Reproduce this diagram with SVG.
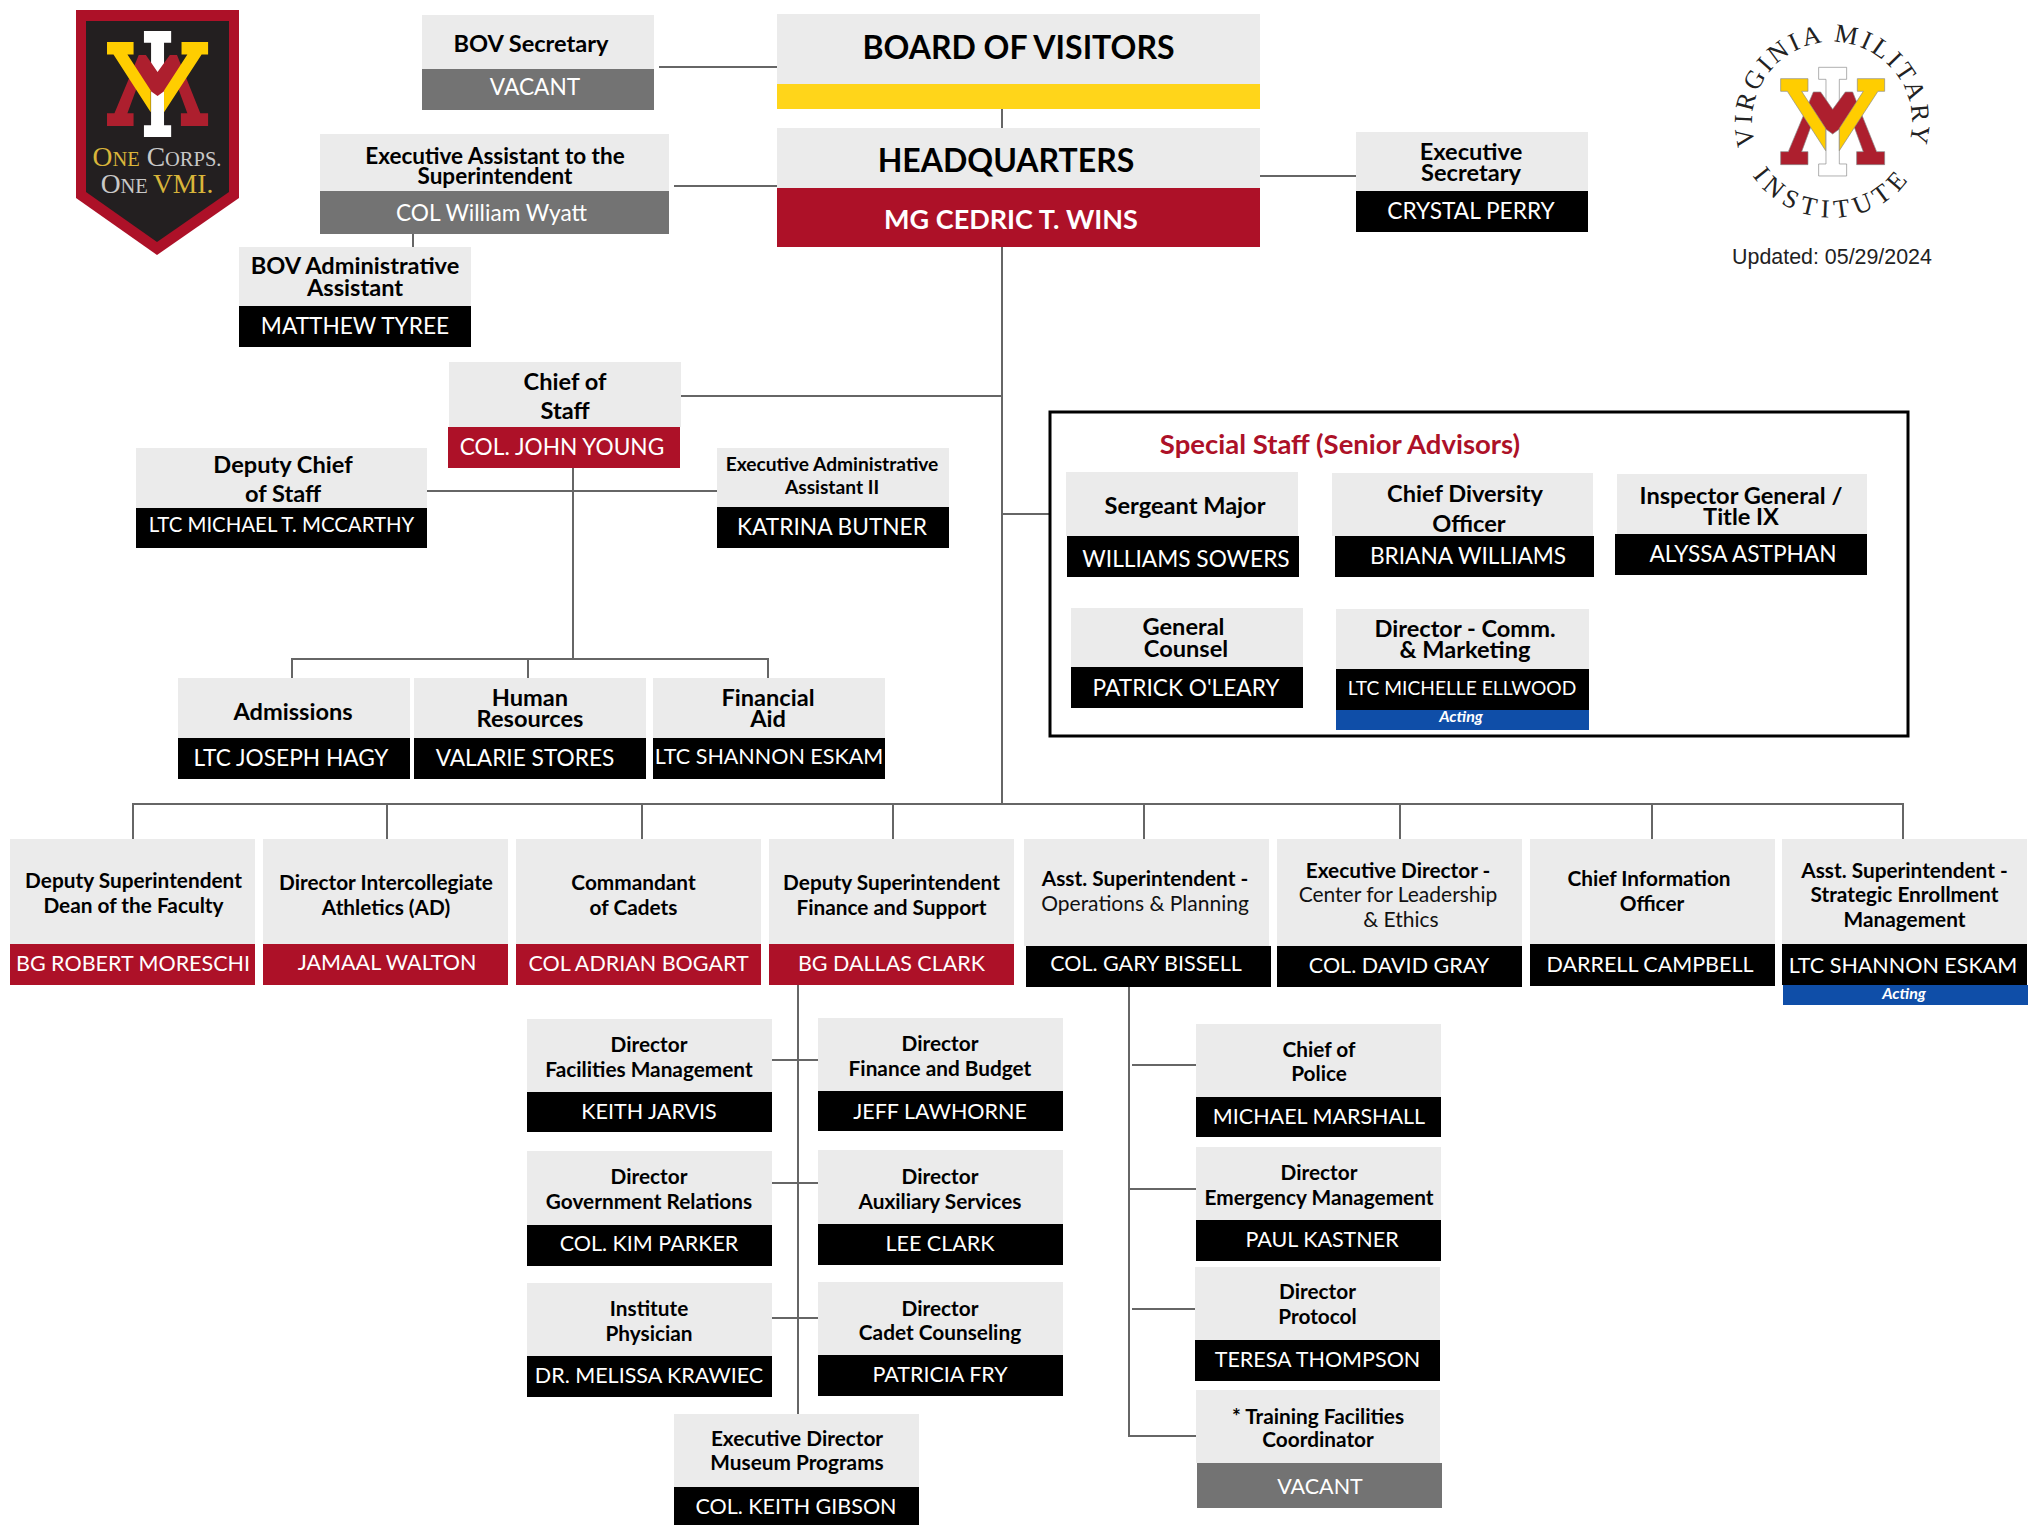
<svg xmlns="http://www.w3.org/2000/svg" width="2037" height="1525" viewBox="0 0 2037 1525">
<style>
text{font-family:"Lato","Carlito","Liberation Sans",sans-serif;text-anchor:middle}
.g{fill:#ebebeb}.k{fill:#000}.r{fill:#ad1128}.d{fill:#737373}.b{fill:#0f4ea8}.y{fill:#ffd51a}
.t{font-size:23.6px;font-weight:700;fill:#000}
.s{font-size:20.8px;font-weight:700;fill:#000}
.l{font-size:21px;font-weight:400;fill:#111}
.n{font-size:22.7px;fill:#fff;font-weight:400}
.m{font-size:21.5px;fill:#fff;font-weight:400}
.a{font-size:16px;font-style:italic;font-weight:700;fill:#fff}
#connectors path{fill:none;stroke:#666;stroke-width:2}
.seal{font-family:"Liberation Serif",serif;font-size:26px;fill:#222;text-anchor:middle}
.sh{font-family:"Liberation Serif",serif;font-size:27.5px}
.sh tspan.c{font-size:20.5px}
</style>
<defs>
<g id="vmi">
<path fill="#fff" d="M506 202H590V238H568V492H590V528H506V492H528V238H506Z"/>
<path fill="#ad1f2e" d="M392 455H415L490 276H512L548 328L586 276H608L680 455H704V494H620V455H640L605 360L548 402L490 360L455 455H474V494H392Z"/>
<path fill="#ffcd00" d="M392 236H474V274H455L527 385V452L412 274H392ZM704 236H622V274H640L568 385V452L684 274H704Z"/>
</g>
<path id="arcTop" d="M1780.6 183.3A80 80 0 1 1 1883.4 183.3"/>
<path id="arcBot" d="M1737.5 138.7A96 96 0 0 0 1926.5 138.7"/>
</defs>

<g id="connectors">
<path d="M1002 109V128M1002 247V804M659 67H777M674 186H777M413 234V247M1260 176H1356M681 396H1002M1002 514H1050"/>
<path d="M427 491H717M573 468V659M292 678V659H768V678M528 659V678"/>
<path d="M133 839V804H1903V839M387 804V839M642 804V839M893 804V839M1144 804V839M1400 804V839M1652 804V839"/>
<path d="M798 985V1414M772 1060H818M772 1183H818M772 1318H818"/>
<path d="M1129 987V1436H1196M1132 1065H1196M1129 1189H1196M1132 1309H1195"/>
</g>

<g id="shield-logo">
<path class="r" d="M76 10H239V198L157 255L76 198Z"/>
<path fill="#231f20" d="M86 21H229V192L157 242L86 192Z"/>
<use href="#vmi" transform="translate(-20 -34.6) scale(.324 .325)"/>
<text class="sh" x="157" y="166" style="font-family:'Liberation Serif',serif"><tspan fill="#d9b53a">O</tspan><tspan class="c" fill="#d9b53a">NE</tspan><tspan fill="#c8c8c8"> C</tspan><tspan class="c" fill="#c8c8c8">ORPS.</tspan></text>
<text class="sh" x="157" y="193" style="font-family:'Liberation Serif',serif"><tspan fill="#c8c8c8">O</tspan><tspan class="c" fill="#c8c8c8">NE </tspan><tspan fill="#d9b53a">VMI.</tspan></text>
</g>

<g id="seal-logo">
<use href="#vmi" transform="translate(1650 0) scale(.3333)" stroke="#888" stroke-width="2"/>
<text class="seal" letter-spacing="3"><textPath href="#arcTop" startOffset="50%">VIRGINIA MILITARY</textPath></text>
<text class="seal" letter-spacing="6"><textPath href="#arcBot" startOffset="50%">INSTITUTE</textPath></text>
<text x="1832" y="264" style="font-family:'Liberation Sans',sans-serif;font-size:21.4px;fill:#222">Updated: 05/29/2024</text>
</g>

<g id="bov-secretary"><rect class="g" x="422" y="15" width="232" height="54"/><rect class="d" x="422" y="69" width="232" height="41"/><text class="t" x="531" y="52">BOV Secretary</text><text class="n" x="535" y="95">VACANT</text></g>
<g id="exec-assistant"><rect class="g" x="320" y="134" width="349" height="57"/><rect class="d" x="320" y="191" width="349" height="43"/><text class="t" x="495" y="164" style="font-size:22.5px">Executive Assistant to the</text><text class="t" x="495" y="184" style="font-size:22.5px">Superintendent</text><text class="n" x="491.5" y="221">COL William Wyatt</text></g>
<g id="bov-admin"><rect class="g" x="239" y="247" width="232" height="59"/><rect class="k" x="239" y="306" width="232" height="41"/><text class="t" x="355" y="274">BOV Administrative</text><text class="t" x="355" y="296">Assistant</text><text class="n" x="355" y="334">MATTHEW TYREE</text></g>
<g id="board"><rect class="g" x="777" y="14" width="483" height="70"/><rect class="y" x="777" y="84" width="483" height="25"/><text x="1018.5" y="59" style="font-size:32px;font-weight:700;fill:#000">BOARD OF VISITORS</text></g>
<g id="hq"><rect class="g" x="777" y="128" width="483" height="60"/><rect class="r" x="777" y="188" width="483" height="59"/><text x="1006" y="172" style="font-size:32px;font-weight:700;fill:#000">HEADQUARTERS</text><text x="1011" y="229" style="font-size:27px;font-weight:700;fill:#fff">MG CEDRIC T. WINS</text></g>
<g id="exec-secretary"><rect class="g" x="1356" y="132" width="232" height="59"/><rect class="k" x="1356" y="191" width="232" height="41"/><text class="t" x="1471" y="160">Executive</text><text class="t" x="1471" y="181">Secretary</text><text class="n" x="1471" y="219">CRYSTAL PERRY</text></g>

<g id="chief-of-staff"><rect class="g" x="449" y="362" width="232" height="65"/><rect class="r" x="448" y="427" width="232" height="41"/><text class="t" x="565" y="390">Chief of</text><text class="t" x="565" y="419">Staff</text><text class="n" x="562" y="455">COL. JOHN YOUNG</text></g>
<g id="deputy-chief"><rect class="g" x="136" y="448" width="291" height="60"/><rect class="k" x="136" y="508" width="291" height="40"/><text class="t" x="283" y="473">Deputy Chief</text><text class="t" x="283" y="502">of Staff</text><text class="m" x="281.5" y="532" style="font-size:20.4px">LTC MICHAEL T. MCCARTHY</text></g>
<g id="exec-admin"><rect class="g" x="717" y="448" width="232" height="59"/><rect class="k" x="717" y="507" width="232" height="41"/><text x="832" y="471" style="font-size:19.2px;font-weight:700;fill:#000">Executive Administrative</text><text x="832" y="494" style="font-size:19.2px;font-weight:700;fill:#000">Assistant II</text><text class="n" x="832" y="535">KATRINA BUTNER</text></g>
<g id="admissions"><rect class="g" x="178" y="678" width="232" height="60"/><rect class="k" x="178" y="738" width="232" height="41"/><text class="t" x="293" y="720">Admissions</text><text class="n" x="291" y="766">LTC JOSEPH HAGY</text></g>
<g id="hr"><rect class="g" x="414" y="678" width="232" height="60"/><rect class="k" x="414" y="738" width="232" height="41"/><text class="t" x="530" y="706">Human</text><text class="t" x="530" y="727">Resources</text><text class="n" x="525" y="766">VALARIE STORES</text></g>
<g id="fin-aid"><rect class="g" x="653" y="678" width="232" height="60"/><rect class="k" x="653" y="738" width="232" height="41"/><text class="t" x="768" y="706">Financial</text><text class="t" x="768" y="727">Aid</text><text class="m" x="769" y="764">LTC SHANNON ESKAM</text></g>

<g id="special-staff"><rect x="1050" y="412" width="858" height="324" fill="#fff" stroke="#000" stroke-width="3"/><text x="1340" y="454" style="font-size:27.5px;font-weight:700;fill:#ad1128">Special Staff (Senior Advisors)</text></g>
<g id="sgt-major"><rect class="g" x="1066" y="472" width="232" height="64"/><rect class="k" x="1067" y="536" width="232" height="41"/><text class="t" x="1185" y="514">Sergeant Major</text><text class="n" x="1186" y="567">WILLIAMS SOWERS</text></g>
<g id="diversity"><rect class="g" x="1332" y="473" width="261" height="63"/><rect class="k" x="1335" y="536" width="259" height="41"/><text class="t" x="1465" y="502">Chief Diversity</text><text class="t" x="1469" y="532">Officer</text><text class="n" x="1468" y="564">BRIANA WILLIAMS</text></g>
<g id="inspector"><rect class="g" x="1617" y="474" width="250" height="60"/><rect class="k" x="1615" y="534" width="252" height="41"/><text class="t" x="1741" y="504">Inspector General /</text><text class="t" x="1741" y="525">Title IX</text><text class="n" x="1743" y="562">ALYSSA ASTPHAN</text></g>
<g id="counsel"><rect class="g" x="1071" y="608" width="232" height="59"/><rect class="k" x="1071" y="667" width="232" height="41"/><text class="t" x="1183.5" y="635">General</text><text class="t" x="1186" y="657">Counsel</text><text class="n" x="1186" y="696">PATRICK O'LEARY</text></g>
<g id="comm"><rect class="g" x="1336" y="609" width="253" height="60"/><rect class="k" x="1336" y="669" width="253" height="41"/><rect class="b" x="1336" y="710" width="253" height="20"/><text class="t" x="1465" y="637">Director - Comm.</text><text class="t" x="1465" y="658">&amp; Marketing</text><text x="1462" y="695" style="font-size:19.2px;fill:#fff">LTC MICHELLE ELLWOOD</text><text class="a" x="1461" y="722">Acting</text></g>

<g id="dean"><rect class="g" x="10" y="839" width="245" height="105"/><rect class="r" x="10" y="944" width="245" height="41"/><text class="s" x="133.5" y="888">Deputy Superintendent</text><text class="s" x="133.5" y="913">Dean of the Faculty</text><text class="m" x="133" y="971">BG ROBERT MORESCHI</text></g>
<g id="athletics"><rect class="g" x="263" y="839" width="245" height="105"/><rect class="r" x="263" y="944" width="245" height="41"/><text class="s" x="386" y="890">Director Intercollegiate</text><text class="s" x="386" y="915">Athletics (AD)</text><text class="m" x="387" y="970">JAMAAL WALTON</text></g>
<g id="commandant"><rect class="g" x="516" y="839" width="245" height="105"/><rect class="r" x="516" y="944" width="245" height="41"/><text class="s" x="633.5" y="890">Commandant</text><text class="s" x="633.5" y="915">of Cadets</text><text class="m" x="638.5" y="971">COL ADRIAN BOGART</text></g>
<g id="finance"><rect class="g" x="769" y="839" width="245" height="105"/><rect class="r" x="769" y="944" width="245" height="41"/><text class="s" x="891.5" y="890">Deputy Superintendent</text><text class="s" x="891.5" y="915">Finance and Support</text><text class="m" x="891.5" y="971">BG DALLAS CLARK</text></g>
<g id="operations"><rect class="g" x="1024" y="839" width="245" height="107"/><rect class="k" x="1026" y="946" width="245" height="41"/><text class="s" x="1145" y="886">Asst. Superintendent -</text><text class="l" x="1145" y="911">Operations &amp; Planning</text><text class="m" x="1146" y="971">COL. GARY BISSELL</text></g>
<g id="leadership"><rect class="g" x="1277" y="839" width="245" height="107"/><rect class="k" x="1277" y="946" width="245" height="41"/><text class="s" x="1398" y="878">Executive Director -</text><text class="l" x="1398" y="902">Center for Leadership</text><text class="l" x="1401" y="927">&amp; Ethics</text><text class="m" x="1399" y="973">COL. DAVID GRAY</text></g>
<g id="cio"><rect class="g" x="1530" y="839" width="245" height="105"/><rect class="k" x="1530" y="944" width="245" height="42"/><text class="s" x="1649" y="886">Chief Information</text><text class="s" x="1652" y="911">Officer</text><text class="m" x="1650" y="972">DARRELL CAMPBELL</text></g>
<g id="enrollment"><rect class="g" x="1782" y="839" width="245" height="105"/><rect class="k" x="1782" y="944" width="245" height="41"/><rect class="b" x="1783" y="985" width="245" height="20"/><text class="s" x="1904.5" y="878">Asst. Superintendent -</text><text class="s" x="1904.5" y="902">Strategic Enrollment</text><text class="s" x="1904.5" y="927">Management</text><text class="m" x="1903" y="973">LTC SHANNON ESKAM</text><text class="a" x="1904" y="999">Acting</text></g>

<g id="facilities"><rect class="g" x="527" y="1019" width="245" height="73"/><rect class="k" x="527" y="1092" width="245" height="40"/><text class="s" x="649" y="1052">Director</text><text class="s" x="649" y="1077">Facilities Management</text><text class="m" x="649" y="1119">KEITH JARVIS</text></g>
<g id="budget"><rect class="g" x="818" y="1018" width="245" height="73"/><rect class="k" x="818" y="1091" width="245" height="40"/><text class="s" x="940" y="1051">Director</text><text class="s" x="940" y="1076">Finance and Budget</text><text class="m" x="940" y="1119">JEFF LAWHORNE</text></g>
<g id="government" transform="translate(0 1)"><rect class="g" x="527" y="1150" width="245" height="74"/><rect class="k" x="527" y="1224" width="245" height="41"/><text class="s" x="649" y="1183">Director</text><text class="s" x="649" y="1208">Government Relations</text><text class="m" x="649" y="1250">COL. KIM PARKER</text></g>
<g id="auxiliary" transform="translate(0 1)"><rect class="g" x="818" y="1149" width="245" height="74"/><rect class="k" x="818" y="1223" width="245" height="41"/><text class="s" x="940" y="1183">Director</text><text class="s" x="940" y="1208">Auxiliary Services</text><text class="m" x="940" y="1250">LEE CLARK</text></g>
<g id="physician" transform="translate(0 1)"><rect class="g" x="527" y="1282" width="245" height="73"/><rect class="k" x="527" y="1355" width="245" height="41"/><text class="s" x="649" y="1315">Institute</text><text class="s" x="649" y="1340">Physician</text><text class="m" x="649" y="1382">DR. MELISSA KRAWIEC</text></g>
<g id="counseling" transform="translate(0 1)"><rect class="g" x="818" y="1281" width="245" height="73"/><rect class="k" x="818" y="1354" width="245" height="41"/><text class="s" x="940" y="1315">Director</text><text class="s" x="940" y="1339">Cadet Counseling</text><text class="m" x="940" y="1381">PATRICIA FRY</text></g>
<g id="museum" transform="translate(0 2)"><rect class="g" x="674" y="1412" width="245" height="73"/><rect class="k" x="674" y="1485" width="245" height="38"/><text class="s" x="797" y="1444">Executive Director</text><text class="s" x="797" y="1468">Museum Programs</text><text class="m" x="796" y="1512">COL. KEITH GIBSON</text></g>
<g id="police"><rect class="g" x="1196" y="1024" width="245" height="73"/><rect class="k" x="1196" y="1097" width="245" height="40"/><text class="s" x="1319" y="1057">Chief of</text><text class="s" x="1319" y="1081">Police</text><text class="m" x="1319" y="1124">MICHAEL MARSHALL</text></g>
<g id="emergency" transform="translate(0 1)"><rect class="g" x="1196" y="1146" width="245" height="73"/><rect class="k" x="1196" y="1219" width="245" height="41"/><text class="s" x="1319" y="1179">Director</text><text class="s" x="1319" y="1204">Emergency Management</text><text class="m" x="1322" y="1246">PAUL KASTNER</text></g>
<g id="protocol" transform="translate(0 1)"><rect class="g" x="1195" y="1266" width="245" height="73"/><rect class="k" x="1195" y="1339" width="245" height="41"/><text class="s" x="1317.5" y="1298">Director</text><text class="s" x="1317.5" y="1323">Protocol</text><text class="m" x="1317.5" y="1366">TERESA THOMPSON</text></g>
<g id="training" transform="translate(0 2)"><rect class="g" x="1196" y="1388" width="244" height="73"/><rect class="d" x="1197" y="1461" width="245" height="45"/><text class="s" x="1318" y="1422">* Training Facilities</text><text class="s" x="1318" y="1445">Coordinator</text><text class="m" x="1320" y="1492">VACANT</text></g>
</svg>
